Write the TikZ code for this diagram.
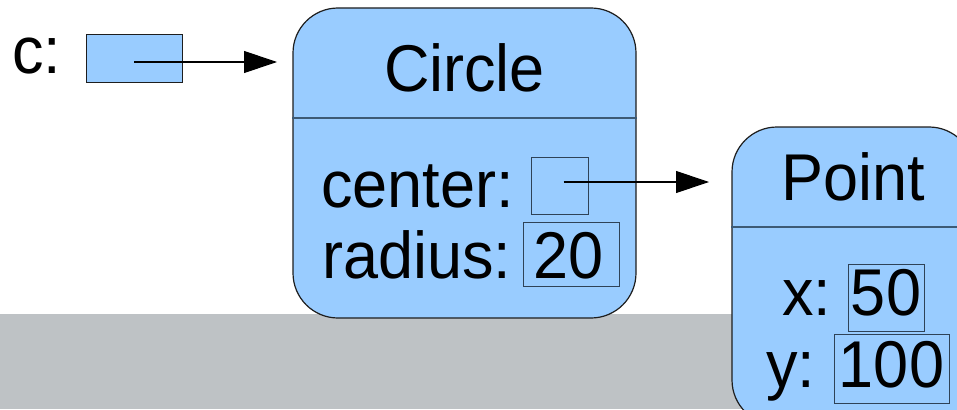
\documentclass[tikz,border=0pt]{standalone}
\usepackage{fontspec}
\usepackage{graphicx}
\setmainfont{Liberation Sans}
\usetikzlibrary{arrows.meta}
\definecolor{boxblue}{HTML}{99CCFF}
\definecolor{band}{HTML}{BEC2C5}
\definecolor{edge}{HTML}{1E1E1E}
\definecolor{inner}{HTML}{2E4257}
\definecolor{divider}{HTML}{3D5A75}
\newcommand{\stx}[1]{\scalebox{1}[1.05]{#1}}
\begin{document}
\begin{tikzpicture}[x=1pt,y=-1pt,
  objbox/.style={draw=edge,fill=boxblue,line width=1.2pt,rounded corners=45pt,inner sep=0pt},
  valbox/.style={draw=inner,line width=1pt,inner sep=0pt},
  lbl/.style={font=\fontsize{63}{70}\selectfont,inner sep=0pt},
  ptr/.style={line width=1.1pt,-{Triangle[length=33pt,width=22pt]}},
  divline/.style={draw=divider,line width=1.2pt}]
\useasboundingbox (0,0) rectangle (957,409);
\clip (0,0) rectangle (957,409);
% gray band
\fill[band] (0,314) rectangle (957,409);
% variable c
\node[lbl,anchor=base west] (clabel) at (12,74) {\stx{c:}};
\node[valbox,draw=edge,fill=boxblue,minimum width=96pt,minimum height=48pt] (cref) at (134,59) {};
\coordinate (ctip) at (277,62);
% Circle object
\node[objbox,minimum width=343pt,minimum height=310pt] (circle) at (464.5,163) {};
\draw[divline] (circle.west |- 0,118) -- (circle.east |- 0,118);
\node[lbl,anchor=base] (ctitle) at (464.5,92) {\stx{Circle}};
\node[lbl,anchor=base west] (centerlbl) at (321,207) {\stx{center:}};
\node[lbl,anchor=base west] (radiuslbl) at (322,278) {\stx{radius:}};
\node[valbox,minimum width=57pt,minimum height=57pt] (centerbox) at (559.5,185.5) {};
\node[valbox,minimum width=96pt,minimum height=64pt] (radiusbox) at (571,254) {};
\node[lbl,anchor=base] (radiusval) at (569,278) {\stx{20}};
% Point object
\node[objbox,minimum width=242pt,minimum height=298pt] (point) at (853,276) {};
\draw[divline] (point.west |- 0,227) -- (point.east |- 0,227);
\node[lbl,anchor=base] (ptitle) at (853,200) {\stx{Point}};
\node[lbl,anchor=base west] (xlbl) at (782,315) {\stx{x:}};
\node[lbl,anchor=base west] (ylbl) at (766,387) {\stx{y:}};
\node[valbox,minimum width=76pt,minimum height=67pt] (xbox) at (886,297.5) {};
\node[lbl,anchor=base] (xval) at (886,315) {\stx{50}};
\node[valbox,minimum width=115pt,minimum height=69pt] (ybox) at (891.5,368.5) {};
\node[lbl,anchor=base] (yval) at (891.5,387) {\stx{100}};
\coordinate (ptip) at (709,182);
% pointers
\draw[ptr] (cref.center |- ctip) -- (ctip);
\draw[ptr] ([xshift=4pt]centerbox.center |- ptip) -- (ptip);
\end{tikzpicture}
\end{document}
